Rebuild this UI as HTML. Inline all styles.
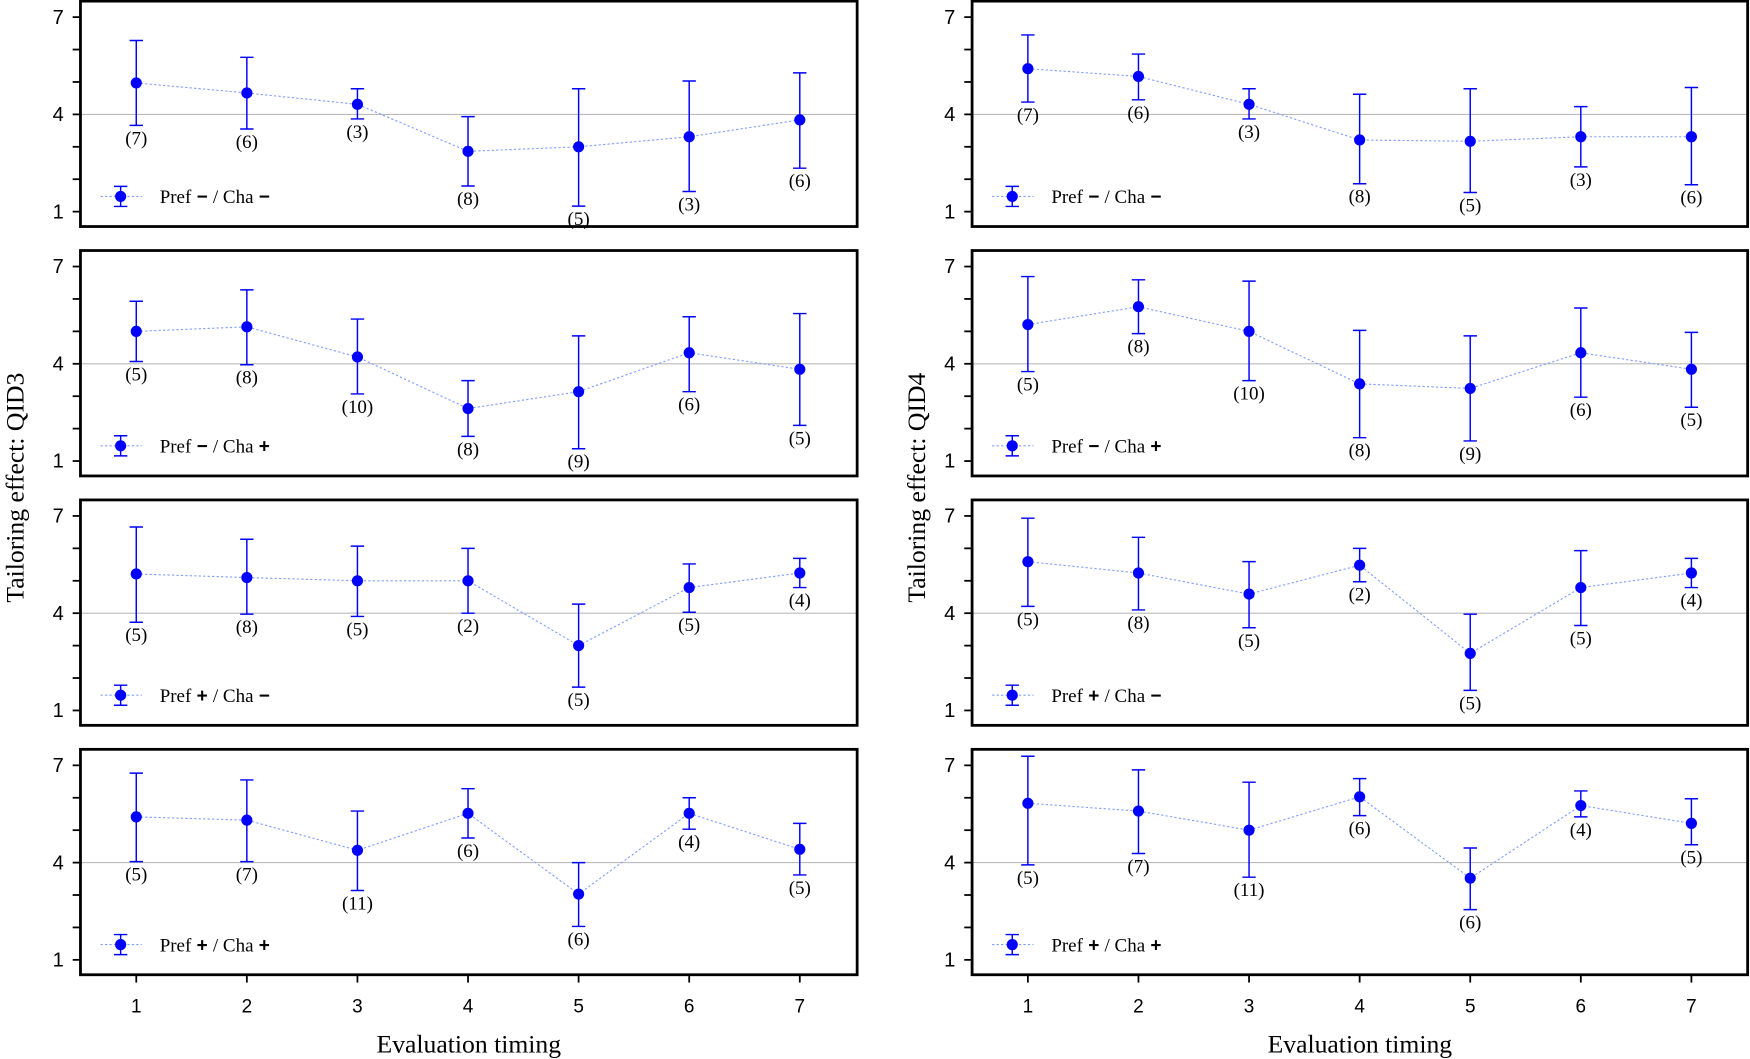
<!DOCTYPE html>
<html><head><meta charset="utf-8">
<style>
html,body{margin:0;padding:0;background:#fff;}
svg{display:block;font-family:"Liberation Serif",serif;}
</style></head>
<body>
<svg id="chart" width="1750" height="1059" viewBox="0 0 1568 949" xmlns="http://www.w3.org/2000/svg"></svg>
<script>
const timings = [1,2,3,4,5,6,7];
const groupLabels = [["−","−"],["−","+"],["+","−"],["+","+"]];
// QID3 (left column)
const q3Means = [[4.97,4.66,4.31,2.86,3.0,3.31,3.83],[5.0,5.14,4.21,2.62,3.14,4.34,3.83],[5.21,5.10,5.0,5.0,3.0,4.79,5.24],[5.41,5.31,4.38,5.52,3.03,5.52,4.41]];
const q3Upper = [[6.28,5.76,4.79,3.93,4.79,5.03,5.28],[5.93,6.28,5.38,3.48,4.86,5.45,5.55],[6.66,6.28,6.07,6.0,4.28,5.52,5.69],[6.76,6.55,5.59,6.28,4.0,6.0,5.21]];
const q3Lower = [[3.66,3.55,3.86,1.79,1.17,1.62,2.34],[4.07,3.97,3.07,1.76,1.38,3.14,2.10],[3.72,3.97,3.9,4.0,1.72,4.03,4.79],[4.03,4.03,3.14,4.76,2.03,5.03,3.62]];
const q3N = [[7,6,3,8,5,3,6],[5,8,10,8,9,6,5],[5,8,5,2,5,5,4],[5,7,11,6,6,4,5]];
// QID4 (right column)
const q4Means = [[5.41,5.17,4.31,3.21,3.17,3.31,3.31],[5.21,5.76,5.0,3.38,3.24,4.34,3.83],[5.59,5.24,4.59,5.48,2.76,4.79,5.24],[5.83,5.59,5.0,6.03,3.52,5.76,5.21]];
const q4Upper = [[6.45,5.86,4.79,4.62,4.79,4.24,4.83],[6.69,6.59,6.55,5.03,4.86,5.72,4.97],[6.93,6.34,5.59,6.0,3.97,5.93,5.69],[7.28,6.86,6.48,6.59,4.45,6.21,5.97]];
const q4Lower = [[4.38,4.45,3.86,1.86,1.59,2.38,1.83],[3.76,4.93,3.48,1.72,1.62,2.97,2.66],[4.21,4.10,3.55,4.97,1.62,3.62,4.79],[3.93,4.28,3.55,5.45,2.55,5.41,4.55]];
const q4N = [[7,6,3,8,5,3,6],[5,8,10,8,9,6,5],[5,8,5,2,5,5,4],[5,7,11,6,6,4,5]];
const yTicks = [1,2,3,4,5,6,7];
const yTickLabels = ["1","","","4","","","7"];

const NS = "http://www.w3.org/2000/svg";
const svg = document.getElementById("chart");
function mk(tag, attrs, parent){
  const e = document.createElementNS(NS, tag);
  for (const k in attrs) e.setAttribute(k, attrs[k]);
  (parent||svg).appendChild(e);
  return e;
}
const cols = [
  {x0:72, x1:768, xa:122, name:"qid3", title:"Tailoring effect: QID3", tx:14, means:q3Means, up:q3Upper, lo:q3Lower, n:q3N},
  {x0:871, x1:1566, xa:921, name:"qid4", title:"Tailoring effect: QID4", tx:822, means:q4Means, up:q4Upper, lo:q4Lower, n:q4N}
];
const panelTops = [1, 224.5, 448, 671.5];
const panelH = 202;
const xStep = 99.1;

cols.forEach(c => {
  const xs = t => c.xa + (t-1)*xStep;
  panelTops.forEach((top, p) => {
    const y4 = top + 101.5;
    const ys = v => y4 - (v-4)*29.05;
    const g = mk("g", {});
    
    
    const rl = mk("line", {x1:c.x0, x2:c.x1, y1:ys(4), y2:ys(4), stroke:"#bbbbbb", "stroke-width":1}, g);
    
    
    yTicks.forEach((v,i) => {
      const tk = mk("line", {x1:c.x0-7, x2:c.x0, y1:ys(v), y2:ys(v), stroke:"#000", "stroke-width":1.6}, g);
      
      
      if (yTickLabels[i]) {
        const tl = mk("text", {x:c.x0-20, y:ys(v)+6, "text-anchor":"middle", "font-family":"Liberation Sans, sans-serif", "font-size":18}, g);
        tl.textContent = yTickLabels[i];
        
        
      }
    });
    const pts = timings.map((t,i) => xs(t)+","+ys(c.means[p][i])).join(" ");
    const pl = mk("polyline", {points:pts, fill:"none", stroke:"#7f9fff", "stroke-width":1, "stroke-dasharray":"2,2"}, g);
    
    
    timings.forEach((t,i) => {
      const x = xs(t), yu = ys(c.up[p][i]), yl = ys(c.lo[p][i]), ym = ys(c.means[p][i]);
      const eb = mk("path", {d:`M${x},${yu}V${yl}M${x-6},${yu}H${x+6}M${x-6},${yl}H${x+6}`, stroke:"#0000ff", "stroke-width":1.3, fill:"none"}, g);
      
      
      const pt = mk("circle", {cx:x, cy:ym, r:5, fill:"#0000ff"}, g);
      
      
      const nl = mk("text", {x:x, y:yl+17, "text-anchor":"middle", "font-size":17}, g);
      nl.textContent = "(" + c.n[p][i] + ")";
      
      
    });
    const ly = top + 175;
    const lx = c.x0 + 36;
    const lg = mk("g", {}, g);
    
    
    mk("line", {x1:lx-18, x2:lx+19, y1:ly, y2:ly, stroke:"#7f9fff", "stroke-width":1, "stroke-dasharray":"2,2"}, lg);
    mk("path", {d:`M${lx},${ly-9}V${ly+9}M${lx-6},${ly-9}H${lx+6}M${lx-6},${ly+9}H${lx+6}`, stroke:"#0000ff", "stroke-width":1.3, fill:"none"}, lg);
    mk("circle", {cx:lx, cy:ly, r:5, fill:"#0000ff"}, lg);
    const lt = mk("text", {x:lx+35, y:ly+6, "font-size":17}, lg);
    lt.innerHTML = 'Pref<tspan font-weight="bold" font-family="Liberation Sans, sans-serif"> ' + groupLabels[p][0] + ' </tspan>/ Cha<tspan font-weight="bold" font-family="Liberation Sans, sans-serif"> ' + groupLabels[p][1] + '</tspan>';
    const fr = mk("rect", {x:c.x0, y:top, width:c.x1-c.x0, height:panelH, fill:"none", stroke:"#000", "stroke-width":2.5}, g);
    
    
  });
  const bottom = panelTops[3] + panelH;
  timings.forEach(t => {
    const tk = mk("line", {x1:xs(t), x2:xs(t), y1:bottom, y2:bottom+7, stroke:"#000", "stroke-width":1.6});
    
    
    const tl = mk("text", {x:xs(t), y:bottom+34, "text-anchor":"middle", "font-family":"Liberation Sans, sans-serif", "font-size":17});
    tl.textContent = t;
    
    
  });
  const xt = mk("text", {x:(c.x0+c.x1)/2, y:943, "text-anchor":"middle", "font-size":23});
  xt.textContent = "Evaluation timing";
  
  
  const yt = mk("text", {x:0, y:0, "text-anchor":"middle", "font-size":23, transform:`translate(${c.tx+7},437) rotate(-90)`});
  yt.textContent = c.title;
  
  
});
</script>
</body></html>
